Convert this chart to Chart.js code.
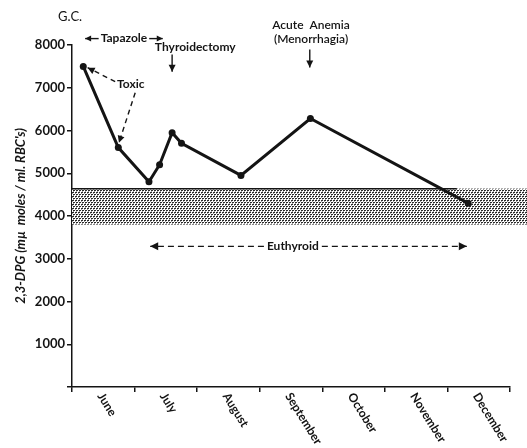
<!DOCTYPE html>
<html>
<head>
<meta charset="utf-8">
<script src="https://cdn.jsdelivr.net/npm/chart.js@4.4.0/dist/chart.umd.min.js"></script>
<style>
  html, body { margin: 0; padding: 0; background: #fff; }
  #wrap { width: 527px; height: 448px; }
</style>
</head>
<body>
<div id="wrap"><canvas id="chart"></canvas></div>
<script>
// --- data ---
const months = ['June', 'July', 'August', 'September', 'October', 'November', 'December'];
// sample dates as month offsets (0 = start of June)
const sampleMonths = [0.18, 0.74, 1.23, 1.40, 1.60, 1.75, 2.70, 3.81, 6.33];
const dpgValues = [7500, 5600, 4800, 5200, 5950, 5700, 4950, 6280, 4300];
const euthyroidRange = [3800, 4640];

const INK = '#141414';
const FONT = 'Lato, "DejaVu Sans", sans-serif';

// annotation anchors, in data units (month offset, 2,3-DPG value)
const notes = {
  gc: { x: -0.03, y: 8665 },
  tapazole: { x0: 0.21, x1: 1.45, y: 8150 },
  thyroidectomy: { x: 1.97, y: 7960, arrowX: 1.60, arrowY0: 7775, arrowY1: 7377 },
  toxic: { x: 0.94, y: 7096 },
  anemia: { x: 3.82, y1: 8454, y2: 8126, arrowX: 3.80, arrowY0: 7892, arrowY1: 7471 },
  euthyroid: { x0: 1.25, x1: 6.31, y: 3290, textX: 3.53 }
};

function arrowHead(ctx, x, y, angle, size) {
  ctx.save();
  ctx.translate(x, y);
  ctx.rotate(angle);
  ctx.beginPath();
  ctx.moveTo(0, 0);
  ctx.lineTo(-size, -size * 0.5);
  ctx.lineTo(-size, size * 0.5);
  ctx.closePath();
  ctx.fill();
  ctx.restore();
}

function arrow(ctx, x0, y0, x1, y1, opts = {}) {
  ctx.save();
  ctx.setLineDash(opts.dash || []);
  ctx.beginPath();
  ctx.moveTo(x0, y0);
  ctx.lineTo(x1, y1);
  ctx.stroke();
  ctx.setLineDash([]);
  const a = Math.atan2(y1 - y0, x1 - x0);
  arrowHead(ctx, x1, y1, a, opts.size || 7);
  ctx.restore();
}

// stippled band for the euthyroid range (staggered dot grid)
function stipplePattern(ctx) {
  const c = document.createElement('canvas');
  c.width = 6; c.height = 4;
  const p = c.getContext('2d');
  p.fillStyle = '#fff';
  p.fillRect(0, 0, 6, 4);
  p.fillStyle = '#2a2a2a';
  [[0, 0], [3, 0], [1, 2], [4, 2]].forEach(([dx, dy]) => p.fillRect(dx, dy, 2, 1));
  p.fillStyle = '#9a9a9a';
  [[0, 1], [3, 1], [1, 3], [4, 3]].forEach(([dx, dy]) => p.fillRect(dx, dy, 1, 1));
  return ctx.createPattern(c, 'repeat');
}

const bandPlugin = {
  id: 'band',
  beforeDatasetsDraw(chart) {
    const { ctx, scales: { x, y }, chartArea } = chart;
    const top = y.getPixelForValue(euthyroidRange[1]);
    const bottom = y.getPixelForValue(euthyroidRange[0]);
    ctx.save();
    ctx.fillStyle = stipplePattern(ctx);
    ctx.fillRect(chartArea.left, top, chart.width - chartArea.left, bottom - top);
    ctx.strokeStyle = INK;
    ctx.lineWidth = 1.5;
    ctx.beginPath();
    ctx.moveTo(chartArea.left, top);
    ctx.lineTo(x.getPixelForValue(6.15), top);
    ctx.stroke();
    ctx.restore();
  }
};

const notesPlugin = {
  id: 'notes',
  afterDraw(chart) {
    const { ctx, scales: { x, y } } = chart;
    const X = v => x.getPixelForValue(v);
    const Y = v => y.getPixelForValue(v);
    ctx.save();
    ctx.fillStyle = INK;
    ctx.strokeStyle = INK;
    ctx.lineWidth = 1.4;
    ctx.textBaseline = 'middle';
    ctx.textAlign = 'center';

    // month labels, centred in each month, slanted down to the right
    ctx.font = 'bold 12px ' + FONT;
    months.forEach((m, i) => {
      ctx.save();
      ctx.translate(X(i + 0.5) - 3, x.top + 7);
      ctx.rotate(58 * Math.PI / 180);
      ctx.textAlign = 'left';
      ctx.fillText(m, 0, 0);
      ctx.restore();
    });

    ctx.font = '13px ' + FONT;
    ctx.fillText('G.C.', X(notes.gc.x), Y(notes.gc.y));

    ctx.font = 'bold 12px ' + FONT;
    // Tapazole
    const t = notes.tapazole;
    const tMid = (X(t.x0) + X(t.x1)) / 2;
    const tw = ctx.measureText('Tapazole').width;
    ctx.fillText('Tapazole', tMid, Y(t.y));
    arrow(ctx, tMid - tw / 2 - 2, Y(t.y), X(t.x0), Y(t.y), { size: 6 });
    arrow(ctx, tMid + tw / 2 + 2, Y(t.y), X(t.x1), Y(t.y), { size: 6 });

    // Thyroidectomy
    const th = notes.thyroidectomy;
    ctx.fillText('Thyroidectomy', X(th.x), Y(th.y));
    arrow(ctx, X(th.arrowX), Y(th.arrowY0), X(th.arrowX), Y(th.arrowY1), { size: 7 });

    // Toxic with dashed pointers
    const tx = notes.toxic;
    ctx.fillText('Toxic', X(tx.x), Y(tx.y));
    arrow(ctx, X(0.69), Y(7143), X(0.25), Y(7470), { dash: [5, 4], size: 7 });
    arrow(ctx, X(1.01), Y(6885), X(0.75), Y(5714), { dash: [5, 4], size: 7 });

    // Acute anemia
    const an = notes.anemia;
    ctx.font = '600 12px ' + FONT;
    ctx.fillText('Acute  Anemia', X(an.x), Y(an.y1));
    ctx.fillText('(Menorrhagia)', X(an.x), Y(an.y2));
    arrow(ctx, X(an.arrowX), Y(an.arrowY0), X(an.arrowX), Y(an.arrowY1), { size: 7 });

    // Euthyroid
    ctx.font = 'bold 12px ' + FONT;
    const eu = notes.euthyroid;
    const ew = ctx.measureText('Euthyroid').width;
    ctx.fillText('Euthyroid', X(eu.textX), Y(eu.y));
    arrow(ctx, X(eu.textX) - ew / 2 - 3, Y(eu.y), X(eu.x0), Y(eu.y), { dash: [6, 4], size: 8 });
    arrow(ctx, X(eu.textX) + ew / 2 + 3, Y(eu.y), X(eu.x1), Y(eu.y), { dash: [6, 4], size: 8 });

    ctx.restore();
  }
};

new Chart(document.getElementById('chart'), {
  type: 'line',
  data: {
    datasets: [{
      data: sampleMonths.map((m, i) => ({ x: m, y: dpgValues[i] })),
      borderColor: INK,
      backgroundColor: INK,
      borderWidth: 3,
      pointRadius: 3.5,
      pointBackgroundColor: INK,
      pointBorderWidth: 0,
      tension: 0
    }]
  },
  options: {
    responsive: true,
    maintainAspectRatio: false,
    animation: false,
    layout: { padding: { top: 45, right: 17, left: 0, bottom: 0 } },
    plugins: {
      legend: { display: false },
      tooltip: { enabled: false }
    },
    scales: {
      x: {
        type: 'linear',
        min: 0,
        max: 7,
        ticks: { stepSize: 1, display: false },
        grid: { drawOnChartArea: false, tickLength: 5, color: INK, lineWidth: 1.5 },
        border: { color: INK, width: 1.5 },
        afterFit(scale) { scale.height = 61; }
      },
      y: {
        min: 0,
        max: 8000,
        ticks: {
          stepSize: 1000,
          color: INK,
          padding: 2,
          font: { family: FONT, size: 13, weight: 'bold' },
          callback: v => (v === 0 ? '' : String(v))
        },
        grid: { drawOnChartArea: false, tickLength: 5, color: INK, lineWidth: 1.5 },
        border: { color: INK, width: 1.5 },
        title: {
          display: true,
          text: "2,3-DPG (mµ  moles / ml. RBC's)",
          color: INK,
          font: { family: FONT, size: 13, style: 'italic', weight: 'bold' },
          padding: { top: 13, bottom: 0 }
        },
        afterFit(scale) { scale.width = 72; }
      }
    }
  },
  plugins: [bandPlugin, notesPlugin]
});
</script>
</body>
</html>
